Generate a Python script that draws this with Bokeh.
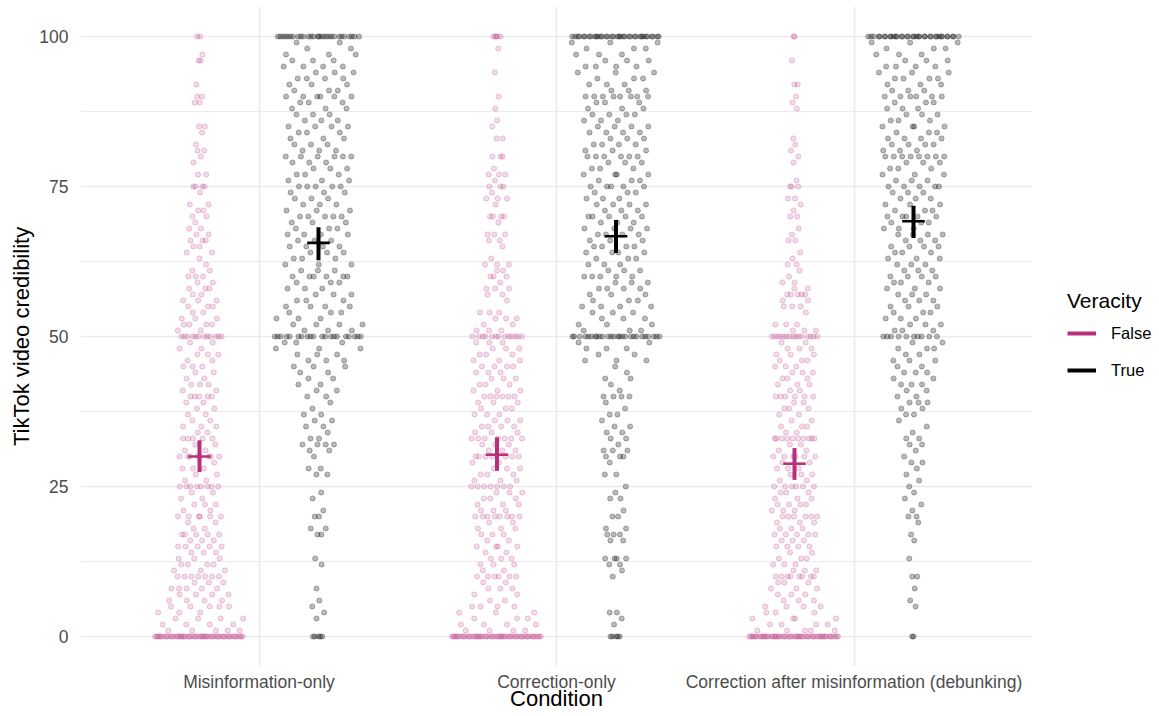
import numpy as np
from bokeh.plotting import figure
from bokeh.layouts import row
from bokeh.models import ColumnDataSource, FixedTicker, Legend, LegendItem, Range1d
from bokeh.embed import file_html
from bokeh.resources import INLINE

# ---------------- data ----------------
conditions = ["Misinformation-only", "Correction-only",
              "Correction after misinformation (debunking)"]
veracity_levels = ["False", "True"]
scale_values = list(range(101))  # response values 0..100

# number of responses at each value 0..100
counts_misinfo_false = [50,
    5, 4, 4, 3, 5, 4, 4, 5, 3, 7,
    3, 4, 3, 3, 5, 3, 5, 2, 2, 6,
    2, 3, 2, 2, 8, 2, 2, 3, 1, 8,
    2, 2, 5, 2, 3, 2, 2, 2, 2, 5,
    2, 3, 2, 2, 3, 2, 3, 2, 2, 12,
    2, 4, 3, 2, 3, 3, 2, 3, 2, 3,
    2, 1, 1, 2, 2, 3, 2, 2, 1, 2,
    2, 2, 0, 1, 4, 0, 2, 0, 1, 1,
    2, 1, 0, 1, 2, 0, 0, 0, 2, 2,
    0, 1, 0, 0, 0, 2, 1, 0, 0, 2]
counts_misinfo_true = [5,
    0, 0, 1, 1, 1, 1, 0, 1, 0, 0,
    0, 1, 1, 0, 0, 0, 2, 2, 0, 2,
    1, 0, 1, 1, 0, 0, 2, 2, 0, 1,
    2, 4, 2, 1, 2, 2, 2, 1, 1, 2,
    2, 2, 2, 2, 3, 3, 3, 3, 3, 20,
    3, 4, 3, 3, 4, 3, 3, 3, 3, 6,
    3, 3, 3, 3, 4, 3, 4, 3, 3, 5,
    3, 3, 3, 3, 5, 3, 3, 3, 3, 6,
    3, 3, 3, 3, 4, 3, 3, 3, 3, 6,
    3, 3, 4, 3, 4, 3, 3, 2, 2, 28]
counts_correction_false = [50,
    4, 4, 3, 3, 4, 2, 2, 3, 2, 6,
    2, 3, 3, 2, 4, 2, 3, 3, 2, 8,
    3, 3, 3, 3, 7, 3, 3, 3, 2, 7,
    3, 3, 7, 3, 4, 3, 3, 3, 3, 6,
    3, 3, 3, 3, 4, 3, 3, 3, 3, 13,
    3, 2, 3, 3, 0, 1, 2, 3, 1, 3,
    2, 3, 1, 0, 1, 2, 3, 0, 1, 4,
    0, 1, 3, 1, 3, 1, 3, 1, 0, 3,
    0, 0, 2, 0, 1, 1, 0, 1, 0, 1,
    0, 0, 0, 1, 0, 0, 0, 1, 0, 5]
counts_correction_true = [5,
    0, 1, 1, 2, 0, 0, 0, 0, 0, 1,
    1, 2, 4, 0, 0, 2, 3, 2, 0, 2,
    1, 0, 2, 1, 1, 0, 2, 0, 1, 3,
    3, 1, 2, 2, 2, 1, 2, 1, 1, 4,
    1, 1, 2, 1, 1, 3, 2, 3, 2, 26,
    3, 3, 3, 3, 4, 3, 3, 4, 3, 5,
    3, 3, 3, 4, 4, 3, 4, 4, 3, 5,
    3, 4, 3, 3, 5, 3, 4, 3, 3, 6,
    3, 4, 3, 4, 4, 3, 4, 3, 3, 8,
    3, 3, 3, 3, 4, 3, 3, 3, 3, 35]
counts_debunk_false = [52,
    5, 4, 4, 3, 4, 3, 3, 3, 3, 8,
    3, 3, 3, 2, 4, 3, 5, 3, 3, 6,
    3, 4, 3, 3, 6, 2, 3, 3, 2, 6,
    2, 2, 10, 2, 3, 2, 2, 3, 2, 6,
    2, 3, 3, 3, 3, 3, 3, 3, 2, 15,
    3, 3, 0, 1, 3, 2, 5, 2, 2, 1,
    1, 2, 1, 1, 0, 2, 1, 1, 0, 2,
    1, 1, 2, 0, 3, 1, 0, 0, 1, 1,
    1, 1, 1, 0, 0, 0, 0, 1, 1, 1,
    0, 2, 0, 0, 0, 1, 0, 0, 0, 2]
counts_debunk_true = [2,
    0, 0, 0, 0, 1, 1, 0, 1, 0, 2,
    0, 0, 1, 0, 0, 1, 1, 0, 1, 2,
    1, 1, 1, 1, 1, 1, 1, 1, 2, 1,
    1, 2, 2, 1, 1, 1, 2, 2, 3, 2,
    2, 3, 2, 3, 2, 3, 2, 3, 2, 10,
    3, 3, 3, 3, 3, 3, 3, 3, 3, 4,
    3, 3, 3, 3, 4, 3, 4, 3, 3, 5,
    3, 3, 3, 3, 5, 3, 3, 3, 3, 8,
    3, 4, 4, 3, 4, 3, 3, 3, 3, 6,
    3, 3, 4, 3, 4, 3, 3, 3, 3, 35]

# means and 95% CI (crosses)
mean_false = [30.0, 30.3, 28.8]
ci_low_false = [27.4, 27.6, 26.1]
ci_high_false = [32.7, 33.2, 31.4]
mean_true = [65.6, 66.7, 69.2]
ci_low_true = [62.7, 63.9, 66.4]
ci_high_true = [68.2, 69.4, 71.8]

y_ticks = [0, 25, 50, 75, 100]
y_minor_ticks = [12.5, 37.5, 62.5, 87.5]

# ---------------- styling ----------------
PINK = "#B8307C"
BLACK = "#000000"
FONT = "Liberation Sans"
DODGE = 0.2
HALF_WIDTH = 0.16
CAP = 0.038


def van_der_corput(n, base=2):
    out = np.empty(n)
    for i in range(1, n + 1):
        q, denom, x = i, 1, 0.0
        while q:
            denom *= base
            q, r = divmod(q, base)
            x += r / denom
        out[i - 1] = x
    return out


def quasirandom_offsets(y, width):
    y = np.asarray(y, dtype=float)
    n = len(y)
    sd = y.std(ddof=1)
    q75, q25 = np.percentile(y, [75, 25])
    iqr = (q75 - q25) / 1.34
    lo = min(sd, iqr) if iqr > 0 else sd
    bw = 0.5 * 0.9 * lo * n ** (-0.2)
    grid = np.linspace(y.min() - 3 * bw, y.max() + 3 * bw, 512)

    def dens(pts):
        return np.exp(-0.5 * ((pts[:, None] - y[None, :]) / bw) ** 2).sum(axis=1)

    d = dens(y) / dens(grid).max()
    ranks = np.argsort(np.argsort(y, kind="stable"), kind="stable")
    off = van_der_corput(n)[ranks]
    return (off * 2 - 1) * width * d


groups = [
    (0, "False", counts_misinfo_false),
    (0, "True", counts_misinfo_true),
    (1, "False", counts_correction_false),
    (1, "True", counts_correction_true),
    (2, "False", counts_debunk_false),
    (2, "True", counts_debunk_true),
]

pts = {"False": {"x": [], "y": []}, "True": {"x": [], "y": []}}
for ci, ver, counts in groups:
    yv = np.repeat(np.array(scale_values, dtype=float), counts)
    center = ci + 1 + (-DODGE if ver == "False" else DODGE)
    xv = center + quasirandom_offsets(yv, HALF_WIDTH)
    pts[ver]["x"].extend(xv.tolist())
    pts[ver]["y"].extend(yv.tolist())

H = 716
W_MAIN, W_LEG = 1032, 127
B_TOP, B_BOTTOM, B_LEFT = 6, 50, 80

p = figure(width=W_MAIN, height=H, output_backend="svg", toolbar_location=None,
           x_range=Range1d(0.4, 3.6), y_range=Range1d(-5, 105),
           min_border_left=B_LEFT, min_border_right=0,
           min_border_top=B_TOP, min_border_bottom=B_BOTTOM)
p.outline_line_color = None
p.background_fill_color = "white"
p.border_fill_color = "white"

p.scatter(pts["False"]["x"], pts["False"]["y"], size=5.2, marker="circle",
          fill_color=PINK, fill_alpha=0.17, line_color=PINK, line_alpha=0.3,
          line_width=0.8)
p.scatter(pts["True"]["x"], pts["True"]["y"], size=5.2, marker="circle",
          fill_color=BLACK, fill_alpha=0.27, line_color=BLACK, line_alpha=0.33,
          line_width=0.8)

pos_false = [i + 1 - DODGE for i in range(len(conditions))]
pos_true = [i + 1 + DODGE for i in range(len(conditions))]

src_f = ColumnDataSource(dict(x=pos_false, lo=ci_low_false, hi=ci_high_false,
                              m=mean_false,
                              xl=[x - CAP for x in pos_false],
                              xr=[x + CAP for x in pos_false]))
src_t = ColumnDataSource(dict(x=pos_true, lo=ci_low_true, hi=ci_high_true,
                              m=mean_true,
                              xl=[x - CAP for x in pos_true],
                              xr=[x + CAP for x in pos_true]))

p.segment(x0="x", y0="lo", x1="x", y1="hi", source=src_f,
          line_color=PINK, line_width=4)
p.segment(x0="xl", y0="m", x1="xr", y1="m", source=src_f,
          line_color=PINK, line_width=2.6)
p.segment(x0="x", y0="lo", x1="x", y1="hi", source=src_t,
          line_color=BLACK, line_width=4)
p.segment(x0="xl", y0="m", x1="xr", y1="m", source=src_t,
          line_color=BLACK, line_width=2.6)

# axes
p.xaxis.ticker = FixedTicker(ticks=[1, 2, 3])
p.xaxis.major_label_overrides = {i + 1: c for i, c in enumerate(conditions)}
p.yaxis.ticker = FixedTicker(ticks=y_ticks, minor_ticks=y_minor_ticks)
p.xaxis.axis_label = "Condition"
p.yaxis.axis_label = "TikTok video credibility"
for ax in (p.xaxis, p.yaxis):
    ax.axis_line_color = None
    ax.major_tick_line_color = None
    ax.minor_tick_line_color = None
    ax.major_tick_out = 0
    ax.major_tick_in = 0
    ax.minor_tick_out = 0
    ax.minor_tick_in = 0
    ax.major_label_text_font = FONT
    ax.major_label_text_font_size = "17.5px"
    ax.major_label_text_color = "#4D4D4D"
    ax.axis_label_text_font = FONT
    ax.axis_label_text_font_size = "22px"
    ax.axis_label_text_font_style = "normal"
    ax.axis_label_text_color = "#000000"
p.yaxis.major_label_standoff = 12
p.yaxis.axis_label_standoff = 2
p.xaxis.major_label_standoff = 5
p.xaxis.axis_label_standoff = -9

# grid
p.xgrid.grid_line_color = "#EBEBEB"
p.xgrid.grid_line_width = 1.6
p.ygrid.grid_line_color = "#EBEBEB"
p.ygrid.grid_line_width = 1.6
p.ygrid.minor_grid_line_color = "#EBEBEB"
p.ygrid.minor_grid_line_width = 1.2

# ---------------- legend panel (right of the plot) ----------------
pl = figure(width=W_LEG, height=H, output_backend="svg", toolbar_location=None,
            x_range=Range1d(0, 1), y_range=Range1d(0, 1),
            x_axis_type=None, y_axis_type=None, min_border=0)
pl.outline_line_color = None
pl.background_fill_color = "white"
pl.border_fill_color = "white"
nan = float("nan")
lf = pl.line(x=[nan], y=[nan], line_color=PINK, line_width=4)
lt = pl.line(x=[nan], y=[nan], line_color=BLACK, line_width=4)

legend = Legend(items=[LegendItem(label=veracity_levels[0], renderers=[lf], index=0),
                       LegendItem(label=veracity_levels[1], renderers=[lt], index=0)],
                title="Veracity",
                location=(35, H - 430))
legend.title_text_font = FONT
legend.title_text_font_size = "21px"
legend.title_text_font_style = "normal"
legend.title_text_color = "#000000"
legend.title_standoff = 10
legend.label_text_font = FONT
legend.label_text_font_size = "16.5px"
legend.label_text_color = "#000000"
legend.glyph_width = 29
legend.glyph_height = 20
legend.label_height = 20
legend.label_standoff = 15
legend.spacing = 17
legend.padding = 0
legend.margin = 0
legend.border_line_color = None
legend.background_fill_alpha = 0
pl.add_layout(legend)

layout = row(p, pl)
open("out.html", "w").write(file_html(layout, INLINE))
